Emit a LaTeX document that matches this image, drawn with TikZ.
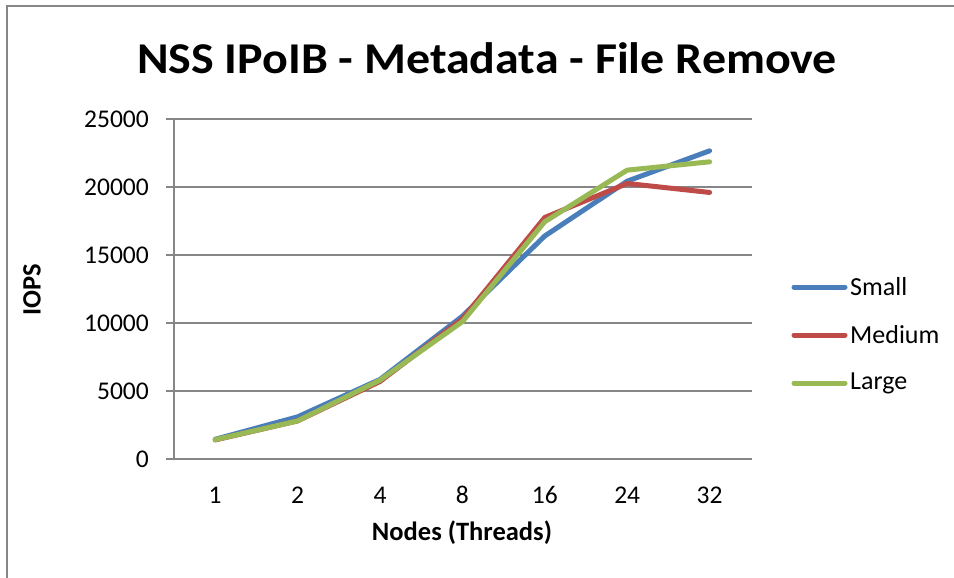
\documentclass[tikz,border=0pt]{standalone}
\usepackage{fontspec}
\setmainfont{Carlito}
\definecolor{sblue}{HTML}{4A7EBB}
\definecolor{sred}{HTML}{BE4B48}
\definecolor{sgreen}{HTML}{98B954}
\definecolor{gridgray}{HTML}{868686}
\begin{document}
\begin{tikzpicture}[x=1pt,y=-1pt,
  grid/.style={draw=gridgray,line width=2pt},
  series/.style={line width=5pt,line cap=round,line join=round},
  ticklbl/.style={font=\fontsize{25.5}{28}\selectfont,inner sep=0pt},
  axtitle/.style={font=\bfseries\fontsize{26.5}{30}\selectfont,inner sep=0pt},
  leglbl/.style={font=\fontsize{26}{28}\selectfont,anchor=west,inner sep=0pt}]
\useasboundingbox (0,0) rectangle (954,578);
\fill[white] (0,0) rectangle (954,578);
% frame
\draw[gridgray,line width=2pt] (7,578) -- (7,6.5) -- (954,6.5);
% title
\node[font=\bfseries\fontsize{44}{48}\selectfont,inner sep=0pt,xscale=1.09] (title) at (487,58) {NSS IPoIB - Metadata - File Remove};
% gridlines and y ticks
\foreach \v/\yy in {0/459,5000/391,10000/323,15000/255,20000/187,25000/119}{
  \draw[grid] (166,\yy) -- (752,\yy);
  \node[ticklbl,anchor=east] (y\v) at (149,\yy) {\v};
}
\draw[grid] (174,119) -- (174,460);
% x labels
\foreach \c/\xx in {1/215.2,2/297.6,4/380,8/462.4,16/544.8,24/627.2,32/709.6}{
  \node[ticklbl] (x\c) at (\xx,495) {\c};
}
\node[axtitle] (xt) at (462,533) {Nodes (Threads)};
\node[axtitle,rotate=90] (yt) at (32,290) {IOPS};
% data (thousands): y = 459 - v*13.6
\def\Y#1{459-#1*13.6}
\draw[series,sblue] (215.2,{\Y{1.45}}) -- (297.6,{\Y{3.1}}) -- (380,{\Y{5.85}}) -- (462.4,{\Y{10.5}}) -- (544.8,{\Y{16.4}}) -- (627.2,{\Y{20.43}}) -- (709.6,{\Y{22.66}});
\draw[series,sred] (215.2,{\Y{1.4}}) -- (297.6,{\Y{2.8}}) -- (380,{\Y{5.7}}) -- (462.4,{\Y{10.3}}) -- (544.8,{\Y{17.76}}) -- (627.2,{\Y{20.26}}) -- (709.6,{\Y{19.6}});
\draw[series,sgreen] (215.2,{\Y{1.42}}) -- (297.6,{\Y{2.8}}) -- (380,{\Y{5.8}}) -- (462.4,{\Y{10.1}}) -- (544.8,{\Y{17.45}}) -- (627.2,{\Y{21.24}}) -- (709.6,{\Y{21.85}});
% legend
\coordinate (l1a) at (794,287); \coordinate (l1b) at (845,287);
\coordinate (l2a) at (794,335); \coordinate (l2b) at (845,335);
\coordinate (l3a) at (794,383); \coordinate (l3b) at (845,383);
\draw[series,sblue] (l1a) -- (l1b);
\draw[series,sred] (l2a) -- (l2b);
\draw[series,sgreen] (l3a) -- (l3b);
\node[leglbl] (ls) at (850,287) {Small};
\node[leglbl] (lm) at (850,335) {Medium};
\node[leglbl] (ll) at (850,383) {Large};
\end{tikzpicture}
\end{document}
